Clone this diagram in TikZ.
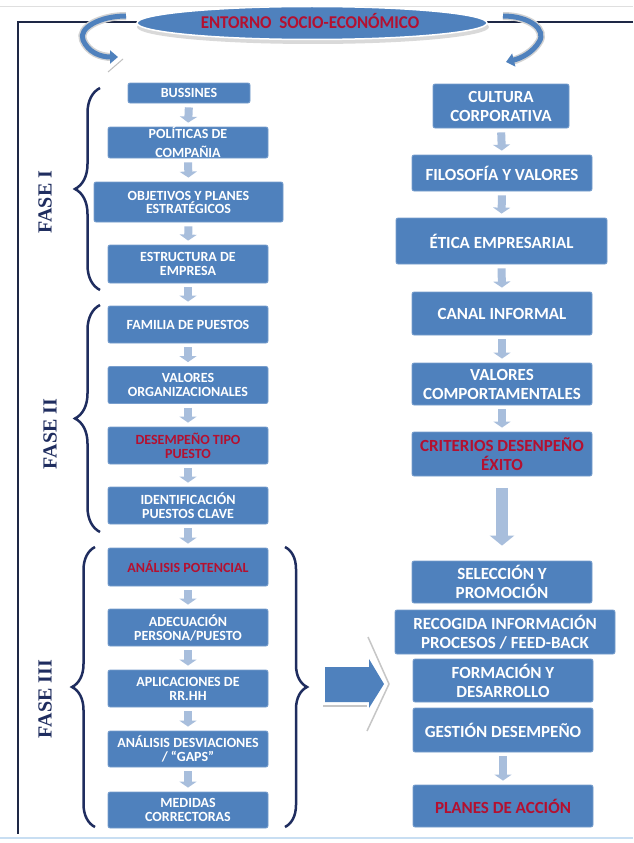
\documentclass[tikz,border=0pt]{standalone}
\usepackage{fontspec}
\setmainfont{Carlito}
\newfontfamily\serifb{Liberation Serif}
\usetikzlibrary{arrows.meta,decorations.pathreplacing,shapes.geometric}
\definecolor{boxblue}{RGB}{79,129,189}
\definecolor{boxedge}{RGB}{120,158,205}
\definecolor{redtxt}{RGB}{180,16,48}
\definecolor{navy}{RGB}{31,45,95}
\definecolor{arrowlite}{RGB}{168,190,220}
\definecolor{framecol}{RGB}{30,40,70}
\definecolor{bottomline}{RGB}{200,222,242}
\begin{document}
\begin{tikzpicture}[x=1pt,y=-1pt,
  lbox/.style={draw=boxedge, line width=0.8pt, fill=boxblue, rounded corners=2pt, text=white,
    font=\bfseries\fontsize{14}{14}\selectfont, align=center, inner sep=0pt,
    minimum width=160, minimum height=37},
  rbox/.style={lbox, font=\bfseries\fontsize{17}{19}\selectfont, minimum width=180, minimum height=43},
  downarr/.style={draw=arrowlite, line width=8pt, -{Triangle[width=17pt,length=6pt]},
    shorten <=4pt, shorten >=4pt},
  fase/.style={rotate=90, text=navy, font=\serifb\bfseries\fontsize{20}{20}\selectfont},
  bracebig/.style={draw=navy, line width=2.5pt, decorate},
  curvout/.style={draw=gray!35, line width=8pt},
  curvin/.style={draw=boxblue, line width=5pt, -{Triangle[width=13pt,length=8pt]}}
]
\useasboundingbox (0,0) rectangle (633,843);
\fill[white] (0,0) rectangle (633,843);

% frame lines
\draw[gray!25, line width=1pt] (0,7) -- (633,7);
\draw[framecol, line width=2pt] (633,22) -- (18,22) -- (18,834);
\draw[bottomline, line width=2.5pt] (0,838) -- (633,838);

% ellipse
\fill[gray!30] (313,27) ellipse [x radius=176, y radius=17];
\node[ellipse, fill=boxblue, draw=white, line width=1.5pt, minimum width=350, minimum height=33, inner sep=0pt] (env) at (312,23) {};
\node[text=redtxt, font=\bfseries\fontsize{18}{18}\selectfont] (envt) at (310,21) {\scalebox{0.94}[1]{ENTORNO\ \ SOCIO-ECONÓMICO}};

% curved arrows
\coordinate (la0) at (126,16);
\coordinate (la1) at (118,57);
\coordinate (ra0) at (503,16);
\coordinate (ra1) at (506,62);
\draw[curvout] (la0) .. controls (100,16) and (78,28) .. (83,40) .. controls (88,52) and (100,57) .. (112,57);
\draw[curvin] (la0) .. controls (100,16) and (78,28) .. (83,40) .. controls (88,52) and (100,57) .. (la1);
\draw[gray!50, line width=1pt] (108,72) -- (123,59);
\draw[curvout] (ra0) .. controls (530,16) and (547,30) .. (539,42) .. controls (533,52) and (522,58) .. (512,61);
\draw[curvin] (ra0) .. controls (530,16) and (547,30) .. (539,42) .. controls (533,52) and (522,58) .. (ra1);

% left column
\node[lbox, minimum width=122, minimum height=20] (l1) at (189,93) {BUSSINES};
\node[lbox, minimum height=31, font=\bfseries\fontsize{14}{19}\selectfont] (l2) at (188,142.5) {POLÍTICAS DE\\COMPAÑIA};
\node[lbox, minimum width=189, minimum height=40, font=\bfseries\fontsize{14}{13}\selectfont] (l3) at (188.5,202) {OBJETIVOS Y PLANES\\ESTRATÉGICOS};
\node[lbox, minimum height=38] (l4) at (188,264) {ESTRUCTURA DE\\EMPRESA};
\node[lbox] (l5) at (188,324.5) {FAMILIA DE PUESTOS};
\node[lbox] (l6) at (188,385) {VALORES\\ORGANIZACIONALES};
\node[lbox, text=redtxt] (l7) at (188,445.5) {DESEMPEÑO TIPO\\PUESTO};
\node[lbox] (l8) at (188,505.5) {IDENTIFICACIÓN\\PUESTOS CLAVE};
\node[lbox, minimum height=38, text=redtxt] (l9) at (188,567) {ANÁLISIS POTENCIAL};
\node[lbox] (l10) at (188,627.5) {ADECUACIÓN\\PERSONA/PUESTO};
\node[lbox] (l11) at (188,688.5) {APLICACIONES DE\\RR.HH};
\node[lbox, minimum height=36] (l12) at (188,749) {ANÁLISIS DESVIACIONES\\/ “GAPS”};
\node[lbox, minimum height=36] (l13) at (188,810) {MEDIDAS\\CORRECTORAS};

\foreach \a/\b in {l1/l2,l2/l3,l3/l4,l4/l5,l5/l6,l6/l7,l7/l8,l8/l9,l9/l10,l10/l11,l11/l12,l12/l13}
  \draw[downarr] (\a.south) -- (\b.north);

% right column
\node[rbox, minimum width=136, minimum height=44] (r1) at (501,106) {CULTURA\\CORPORATIVA};
\node[rbox, minimum height=36] (r2) at (502,173) {FILOSOFÍA Y VALORES};
\node[rbox, minimum width=211, minimum height=46] (r3) at (501.5,241) {ÉTICA EMPRESARIAL};
\node[rbox] (r4) at (502,313.5) {CANAL INFORMAL};
\node[rbox, minimum height=42] (r5) at (502,384) {VALORES\\COMPORTAMENTALES};
\node[rbox, minimum height=44, text=redtxt] (r6) at (502,454) {CRITERIOS DESENPEÑO\\ÉXITO};
\node[rbox, minimum height=42] (r7) at (502,582) {SELECCIÓN Y\\PROMOCIÓN};
\node[rbox, minimum width=220, minimum height=44] (r8) at (505,632) {RECOGIDA INFORMACIÓN\\PROCESOS / FEED-BACK};
\node[rbox] (r9) at (503,680.5) {FORMACIÓN Y\\DESARROLLO};
\node[rbox, minimum height=44] (r10) at (503,730) {GESTIÓN DESEMPEÑO};
\node[rbox, minimum height=42, text=redtxt] (r11) at (503,806) {PLANES DE ACCIÓN};

\foreach \a/\b in {r1/r2,r2/r3,r3/r4,r4/r5,r5/r6,r10/r11}
  \draw[downarr] (\a.south) -- (\b.north);
\draw[draw=arrowlite, line width=12pt, -{Triangle[width=24pt,length=10pt]}, shorten <=12pt, shorten >=15pt] (r6.south) -- (r7.north);

% braces
\draw[bracebig, decoration={brace, amplitude=25pt}] (100,290) -- (100,88);
\draw[bracebig, decoration={brace, amplitude=25pt}] (100,532) -- (100,305);
\draw[bracebig, decoration={brace, amplitude=23pt}] (95,827) -- (95,547);
\draw[bracebig, decoration={brace, amplitude=22pt}] (285,547) -- (285,827);

% phase labels
\node[fase] (f1) at (45,202) {FASE I};
\node[fase] (f2) at (50,434) {FASE II};
\node[fase] (f3) at (45,699) {FASE III};

% big arrow
\draw[gray!45, line width=1.5pt] (368,637) -- (389,684) -- (367,731);
\draw[gray!45, line width=1.5pt] (323,706) -- (367,706);
\fill[boxblue] (325,667) -- (369,667) -- (369,659) -- (384,684) -- (369,708) -- (369,702) -- (325,702) -- cycle;
\end{tikzpicture}
\end{document}
